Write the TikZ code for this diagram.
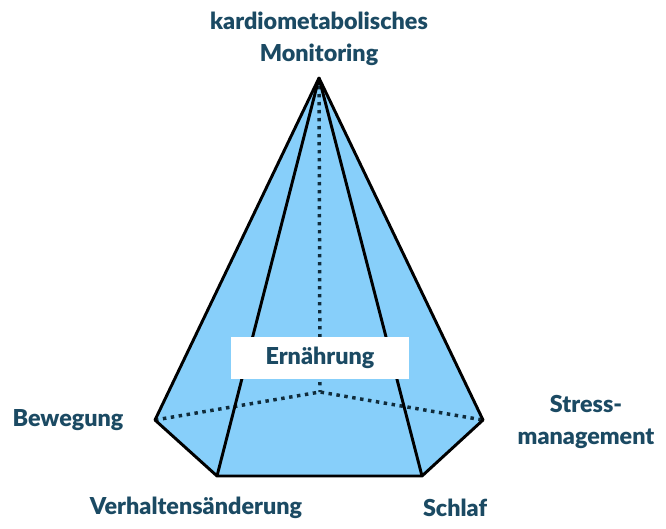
\documentclass[tikz,border=0pt]{standalone}
\usepackage{fontspec}
\setmainfont{Lato}[BoldFont={Lato Black}]
\definecolor{labelblue}{HTML}{1B4A63}
\definecolor{facefill}{HTML}{87CFFA}
\tikzset{
  lbl/.style={font=\bfseries\fontsize{17.5}{21}\selectfont,text=labelblue,align=center},
  edge/.style={line width=2.2pt,line join=round},
  hidden/.style={line width=2.6pt,dash pattern=on 2.6pt off 3.4pt,color=labelblue!60!black}
}
\begin{document}
\begin{tikzpicture}[x=0.75pt,y=-0.75pt]
  \useasboundingbox (0,0) rectangle (666,528);
  % corners of the pyramid
  \coordinate (apex) at (319,78);
  \coordinate (back) at (320,392);
  \coordinate (left) at (155,420);
  \coordinate (right) at (483,420);
  \coordinate (fleft) at (217,476);
  \coordinate (fright) at (422,476);
  \fill[facefill] (apex) -- (left) -- (fleft) -- (fright) -- (right) -- cycle;
  \draw[hidden] (apex) -- (back);
  \draw[hidden] (left) -- (back) -- (right);
  \draw[edge] (apex) -- (left) -- (fleft) -- (fright) -- (right) -- cycle;
  \draw[edge] (apex) -- (fleft);
  \draw[edge] (apex) -- (fright);
  \node[lbl,fill=white,minimum width=134pt,minimum height=32pt] (nutrition) at (320,358) {Ernährung};
  % labels
  \node[lbl] (monitoring) at (319,39) {kardiometabolisches\\[3pt]Monitoring};
  \node[lbl] (movement) at (68,420) {Bewegung};
  \node[lbl] (stress) at (586,422) {Stress-\\[3pt]management};
  \node[lbl] (behaviour) at (196,508) {Verhaltensänderung};
  \node[lbl] (sleep) at (455,508) {Schlaf};
\end{tikzpicture}
\end{document}
